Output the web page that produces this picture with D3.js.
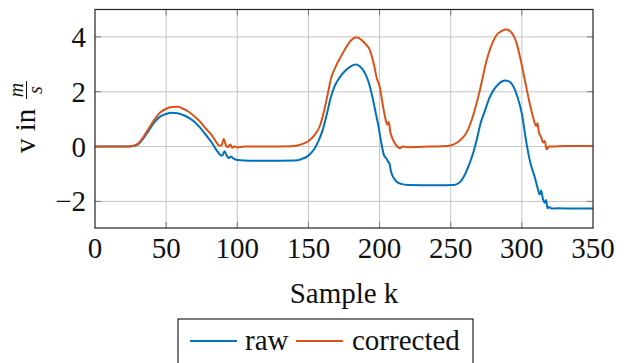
<!DOCTYPE html>
<html>
<head>
<meta charset="utf-8">
<script src="https://cdn.jsdelivr.net/npm/d3@7"></script>
<style>
  body { margin: 0; background: #fff; }
  svg { display: block; }
</style>
</head>
<body>
<div id="chart"></div>
<script>
// sample index k and velocity readings
const rawK = [0, 20, 26, 30, 34, 38, 42, 46, 50, 54, 58, 62, 66, 70, 74, 78, 82, 85, 88, 89.5, 91, 92.5, 94, 95.5, 97, 100, 105, 120, 140, 145, 150, 154, 157, 160, 163, 165.5, 168, 171, 175, 179, 183, 186, 189, 192, 195, 197, 199, 201, 203, 205, 206, 207, 208, 210, 212, 215, 220, 240, 252, 256, 260, 263, 266, 268.5, 271, 274, 277, 280, 284, 288, 291, 294, 297, 300, 303, 306, 309, 311, 312.5, 313.5, 315, 316, 317, 318, 319, 321, 325, 340, 350];
const rawV = [0, 0, 0.01, 0.07, 0.3, 0.6, 0.9, 1.1, 1.19, 1.23, 1.22, 1.15, 1.05, 0.9, 0.68, 0.42, 0.15, -0.1, -0.3, -0.33, -0.17, -0.32, -0.42, -0.36, -0.42, -0.49, -0.51, -0.52, -0.51, -0.46, -0.33, -0.1, 0.2, 0.6, 1.2, 1.75, 2.15, 2.45, 2.72, 2.9, 2.99, 2.93, 2.75, 2.4, 1.8, 1.3, 0.8, 0.2, -0.3, -0.45, -0.55, -0.62, -0.9, -1.15, -1.28, -1.36, -1.4, -1.41, -1.4, -1.32, -1.02, -0.65, -0.2, 0.3, 0.85, 1.3, 1.75, 2.05, 2.3, 2.41, 2.38, 2.2, 1.8, 1.2, 0.2, -0.6, -1.1, -1.5, -1.75, -1.6, -1.95, -2.05, -1.95, -2.25, -2.2, -2.26, -2.25, -2.26, -2.26];

const corK = [0, 22, 26, 30, 34, 38, 42, 46, 50, 54, 58, 62, 66, 70, 74, 78, 82, 85, 87.5, 89, 90.5, 92, 93.5, 95, 96.5, 98, 100, 105, 120, 138, 145, 150, 154, 158, 161, 163.5, 166, 169, 173, 177, 180, 184, 187, 190, 193, 196, 198, 200, 202, 204, 205.5, 206.5, 207.5, 209, 211, 213, 214.5, 216, 220, 235, 248, 254, 258, 261, 264, 267, 270, 272, 275, 278, 282, 286, 289, 292, 296, 299, 302, 305, 308, 310, 311, 312, 313.5, 315, 316, 317.5, 319, 322, 330, 350];
const corV = [0, 0, 0.02, 0.1, 0.35, 0.68, 1.0, 1.25, 1.38, 1.44, 1.45, 1.38, 1.26, 1.1, 0.9, 0.65, 0.42, 0.18, 0.03, 0.05, 0.28, 0.05, -0.02, 0.08, -0.04, 0.01, -0.03, 0, 0, 0.01, 0.08, 0.2, 0.4, 0.75, 1.3, 1.9, 2.5, 2.9, 3.3, 3.66, 3.88, 3.99, 3.9, 3.75, 3.54, 3.0, 2.5, 2.2, 1.6, 1.05, 0.8, 0.9, 0.55, 0.3, 0.1, -0.02, -0.06, 0, -0.02, 0, 0.02, 0.13, 0.3, 0.5, 0.85, 1.35, 1.95, 2.4, 3.1, 3.6, 4.05, 4.22, 4.27, 4.2, 3.82, 3.2, 2.45, 1.7, 1.05, 0.75, 0.85, 0.5, 0.35, 0.15, 0.2, -0.1, 0, 0, 0.02, 0.02];

const xTicks = [0, 50, 100, 150, 200, 250, 300, 350];
const yTicks = [-2, 0, 2, 4];
const seriesNames = ["raw", "corrected"];
const seriesColors = ["#0072bd", "#d95319"];

const W = 628, H = 363;
const plotL = 95, plotR = 593, plotT = 9.5, plotB = 228;
const FS = 29;

const svg = d3.select("#chart").append("svg")
    .attr("width", W)
    .attr("height", H)
    .attr("font-family", "Liberation Serif");

const x = d3.scaleLinear().domain([0, 350]).range([plotL, plotR]);
const y = d3.scaleLinear().domain([-2.97, 5.0]).range([plotB, plotT]);

// grid
svg.append("g").selectAll("line")
    .data(xTicks.slice(1, -1))
    .enter().append("line")
    .attr("x1", d => x(d)).attr("x2", d => x(d))
    .attr("y1", plotT).attr("y2", plotB)
    .attr("stroke", "#c4c4c4").attr("stroke-width", 1);
svg.append("g").selectAll("line")
    .data(yTicks)
    .enter().append("line")
    .attr("x1", plotL).attr("x2", plotR)
    .attr("y1", d => y(d)).attr("y2", d => y(d))
    .attr("stroke", "#c4c4c4").attr("stroke-width", 1);

// inner ticks on all sides
const tickLen = 6;
xTicks.slice(1, -1).forEach(d => {
    svg.append("line").attr("x1", x(d)).attr("x2", x(d)).attr("y1", plotB).attr("y2", plotB - tickLen).attr("stroke", "#777");
    svg.append("line").attr("x1", x(d)).attr("x2", x(d)).attr("y1", plotT).attr("y2", plotT + tickLen).attr("stroke", "#777");
});
yTicks.forEach(d => {
    svg.append("line").attr("x1", plotL).attr("x2", plotL + tickLen).attr("y1", y(d)).attr("y2", y(d)).attr("stroke", "#777");
    svg.append("line").attr("x1", plotR).attr("x2", plotR - tickLen).attr("y1", y(d)).attr("y2", y(d)).attr("stroke", "#777");
});

// lines
const line = d3.line()
    .x(d => x(d[0]))
    .y(d => y(d[1]))
    .curve(d3.curveMonotoneX);

const series = [
    d3.zip(rawK, rawV),
    d3.zip(corK, corV)
];

svg.append("defs").append("clipPath").attr("id", "clip")
    .append("rect").attr("x", plotL).attr("y", plotT).attr("width", plotR - plotL).attr("height", plotB - plotT);

svg.append("g").attr("clip-path", "url(#clip)")
    .selectAll("path")
    .data(series)
    .enter().append("path")
    .attr("d", line)
    .attr("fill", "none")
    .attr("stroke", (d, i) => seriesColors[i])
    .attr("stroke-width", 2)
    .attr("stroke-linejoin", "round");

// frame
svg.append("rect")
    .attr("x", plotL).attr("y", plotT)
    .attr("width", plotR - plotL).attr("height", plotB - plotT)
    .attr("fill", "none").attr("stroke", "#222").attr("stroke-width", 1.2);

// tick labels
svg.append("g").selectAll("text")
    .data(xTicks)
    .enter().append("text")
    .attr("x", d => x(d))
    .attr("y", 258)
    .attr("text-anchor", "middle")
    .attr("font-size", FS)
    .attr("fill", "#111")
    .text(d => d);

svg.append("g").selectAll("text")
    .data(yTicks)
    .enter().append("text")
    .attr("x", 86)
    .attr("y", d => y(d) + 10)
    .attr("text-anchor", "end")
    .attr("font-size", FS)
    .attr("fill", "#111")
    .text(d => d < 0 ? "\u2212" + Math.abs(d) : d);

// axis titles
svg.append("text")
    .attr("x", x(175))
    .attr("y", 303)
    .attr("text-anchor", "middle")
    .attr("font-size", FS)
    .attr("fill", "#111")
    .text("Sample k");

const yl = svg.append("g").attr("transform", "translate(35,153) rotate(-90)");
yl.append("text")
    .attr("x", 0).attr("y", 0)
    .attr("font-size", FS)
    .attr("fill", "#111")
    .text("v in");
yl.append("text")
    .attr("x", 63).attr("y", -12.5)
    .attr("text-anchor", "middle")
    .attr("font-size", 20)
    .attr("font-style", "italic")
    .attr("fill", "#111")
    .text("m");
yl.append("line")
    .attr("x1", 54).attr("x2", 72)
    .attr("y1", -8.5).attr("y2", -8.5)
    .attr("stroke", "#111").attr("stroke-width", 1);
yl.append("text")
    .attr("x", 63).attr("y", 7)
    .attr("text-anchor", "middle")
    .attr("font-size", 20)
    .attr("font-style", "italic")
    .attr("fill", "#111")
    .text("s");

// legend
const lg = svg.append("g");
lg.append("rect")
    .attr("x", 178).attr("y", 319)
    .attr("width", 295).attr("height", 60)
    .attr("fill", "#fff").attr("stroke", "#222").attr("stroke-width", 1.2);
const legendX = [190, 296];
const legendTextX = [245, 352];
seriesNames.forEach((name, i) => {
    lg.append("line")
        .attr("x1", legendX[i]).attr("x2", legendX[i] + 47)
        .attr("y1", 341).attr("y2", 341)
        .attr("stroke", seriesColors[i]).attr("stroke-width", 2);
    lg.append("text")
        .attr("x", legendTextX[i]).attr("y", 350)
        .attr("font-size", FS)
        .attr("fill", "#111")
        .text(name);
});
</script>
</body>
</html>
